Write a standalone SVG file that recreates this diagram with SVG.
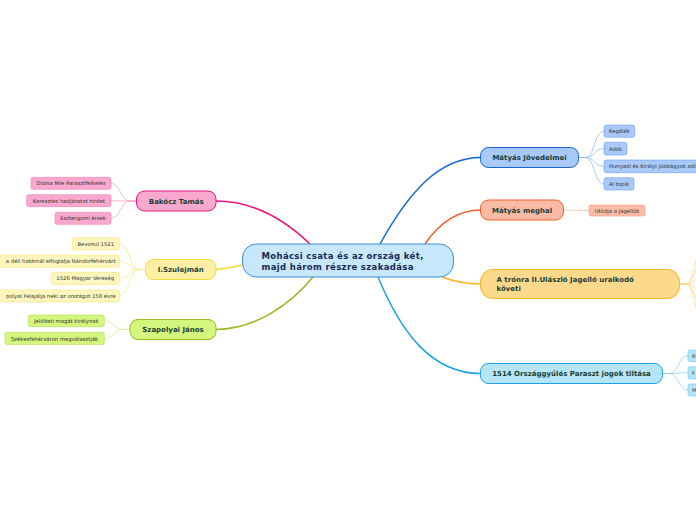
<svg xmlns="http://www.w3.org/2000/svg" width="696" height="520" viewBox="0 0 696 520">
<style>
text{font-family:"DejaVu Sans","Verdana",sans-serif}
.main{font-weight:bold;font-size:7px;fill:#1b3d35;text-anchor:middle}
.ctr{font-weight:bold;font-size:8.5px;fill:#1a2a55;letter-spacing:0.35px}
.sub{font-size:5.3px;fill:#333;text-anchor:middle}
.mc{fill:none;stroke-width:1.5}
.cc{fill:none;stroke-width:0.8}
</style>
<rect width="696" height="520" fill="#ffffff"/>
<g id="connectors">
  <path class="mc" stroke="#e8157a" d="M310,244 C285,220 255,201 216,201"/>
  <path class="mc" stroke="#f2dc3a" d="M243,265 C232,267 226,269 216,269.5"/>
  <path class="mc" stroke="#94ba1c" d="M313,277 C290,305 255,329 216,329.5"/>
  <path class="mc" stroke="#1565d4" d="M380,244 C410,190 440,157.5 481,157.5"/>
  <path class="mc" stroke="#f2602e" d="M425,244 C440,222 458,210 481,210"/>
  <path class="mc" stroke="#f8b425" d="M442,277 C455,282 465,284 481,284"/>
  <path class="mc" stroke="#1aa2e8" d="M378,277 C400,330 430,373.5 481,373.5"/>
  <g stroke="#f5a2c8" class="cc">
    <path d="M136.5,201 L130,201 C121,201 120,183.3 111,183.3"/>
    <path d="M136.5,201 L130,201 C121,201 120,200.7 111,200.7"/>
    <path d="M136.5,201 L130,201 C121,201 120,218.3 111,218.3"/>
  </g>
  <g stroke="#f7e88a" class="cc">
    <path d="M145.5,269.5 L139,269.5 C130,269.5 129,243.8 119.3,243.8"/>
    <path d="M145.5,269.5 L139,269.5 C130,269.5 129,261.2 119.3,261.2"/>
    <path d="M145.5,269.5 L139,269.5 C130,269.5 129,278.4 119.3,278.4"/>
    <path d="M145.5,269.5 L139,269.5 C130,269.5 129,296 119.3,296"/>
  </g>
  <g stroke="#cfe89a" class="cc">
    <path d="M130,329.5 L124,329.5 C114,329.5 114,320.8 104.3,320.8"/>
    <path d="M130,329.5 L124,329.5 C114,329.5 114,338.5 104.3,338.5"/>
  </g>
  <g stroke="#94bcf4" class="cc">
    <path d="M578.5,157.5 L585,157.5 C595,157.5 594,131.2 604,131.2"/>
    <path d="M578.5,157.5 L585,157.5 C595,157.5 594,148.6 604,148.6"/>
    <path d="M578.5,157.5 L585,157.5 C595,157.5 594,166.3 604,166.3"/>
    <path d="M578.5,157.5 L585,157.5 C595,157.5 594,183.8 604,183.8"/>
  </g>
  <g stroke="#f9b8a4" class="cc">
    <path d="M563.5,210 C575,210 580,210.5 589,210.5"/>
  </g>
  <g stroke="#fcd990" class="cc">
    <path d="M679.5,284 L686,284 C694,284 696,250 705,230"/>
    <path d="M679.5,284 L686,284 C694,284 696,262 705,255"/>
    <path d="M679.5,284 L686,284 C694,284 696,276 705,274"/>
    <path d="M679.5,284 L686,284 C694,284 696,292 705,294"/>
    <path d="M679.5,284 L686,284 C694,284 696,306 705,313"/>
    <path d="M679.5,284 L686,284 C694,284 696,318 705,338"/>
  </g>
  <g stroke="#94d4f4" class="cc">
    <path d="M662.5,373.5 L669,373.5 C679,373.5 678,355.8 688,355.8"/>
    <path d="M662.5,373.5 L669,373.5 C679,373.5 678,372.8 688,372.8"/>
    <path d="M662.5,373.5 L669,373.5 C679,373.5 678,390 688,390"/>
  </g>
</g>
<g id="central">
  <rect x="242.5" y="244" width="211" height="33" rx="14" fill="#c6e8fa" stroke="#3a8fd6" stroke-width="1"/>
  <text class="ctr" x="261.5" y="259">Mohácsi csata és az ország két,</text>
  <text class="ctr" x="261.5" y="270">majd három részre szakadása</text>
</g>
<g id="bakocz">
  <rect x="136.5" y="191" width="79.5" height="20" rx="8" fill="#f9a9cf" stroke="#e8157a"/>
  <text class="main" x="176.2" y="203.5">Bakócz Tamás</text>
</g>
<g id="bakocz-1"><rect x="31" y="177.3" width="80" height="12" rx="2" fill="#f9a9cf" stroke="#ee7fb4" stroke-width="0.6"/><text class="sub" x="71" y="185.2">Dózsa féle Parasztfelkelés</text></g>
<g id="bakocz-2"><rect x="26.7" y="194.7" width="84.3" height="12" rx="2" fill="#f9a9cf" stroke="#ee7fb4" stroke-width="0.6"/><text class="sub" x="68.8" y="202.6">Keresztes hadjáratot hirdet</text></g>
<g id="bakocz-3"><rect x="55" y="212.3" width="56" height="12" rx="2" fill="#f9a9cf" stroke="#ee7fb4" stroke-width="0.6"/><text class="sub" x="83" y="220.2">Esztergomi érsek</text></g>
<g id="szulejman">
  <rect x="145.5" y="259.5" width="70.5" height="20" rx="8" fill="#fdf0a4" stroke="#f2dc3a"/>
  <text class="main" x="180.7" y="272">I.Szulejmán</text>
</g>
<g id="szulejman-1"><rect x="72.3" y="237.7" width="47" height="12.3" rx="2" fill="#fef6bc" stroke="#f5e27c" stroke-width="0.6"/><text class="sub" x="95.8" y="245.8">Bevonul 1521</text></g>
<g id="szulejman-2"><rect x="-5" y="255" width="124.3" height="12.3" rx="2" fill="#fef6bc" stroke="#f5e27c" stroke-width="0.6"/><text class="sub" x="115.5" y="263.1" style="text-anchor:end">a déli határnál elfoglalja Nándorfehérvárt</text></g>
<g id="szulejman-3"><rect x="51" y="272.3" width="68.3" height="12.3" rx="2" fill="#fef6bc" stroke="#f5e27c" stroke-width="0.6"/><text class="sub" x="85.2" y="280.4">1526 Magyar Vereség</text></g>
<g id="szulejman-4"><rect x="-5" y="290" width="124.3" height="12" rx="2" fill="#fef6bc" stroke="#f5e27c" stroke-width="0.6"/><text class="sub" x="115.5" y="298" style="text-anchor:end">polyai Felajálja neki az országot 150 évre</text></g>
<g id="szapolyai">
  <rect x="130" y="319.5" width="86" height="20" rx="8" fill="#d4f57e" stroke="#94ba1c"/>
  <text class="main" x="173" y="332">Szapolyai János</text>
</g>
<g id="szapolyai-1"><rect x="28.3" y="315" width="76" height="11.7" rx="2" fill="#d4f57e" stroke="#b2da58" stroke-width="0.6"/><text class="sub" x="66.3" y="322.9">Jelölteti magát királynak</text></g>
<g id="szapolyai-2"><rect x="5" y="332.3" width="99.3" height="12.3" rx="2" fill="#d4f57e" stroke="#b2da58" stroke-width="0.6"/><text class="sub" x="54.6" y="340.5">Székesfehérváron megválasztják</text></g>
<g id="jovedelmei">
  <rect x="480.5" y="147.5" width="98" height="20" rx="8" fill="#a8c9fa" stroke="#1565d4"/>
  <text class="main" x="529.5" y="160">Mátyás Jövedelmei</text>
</g>
<g id="jovedelmei-1"><rect x="604" y="125" width="30.7" height="12.3" rx="2" fill="#a8c9fa" stroke="#6fa0ea" stroke-width="0.6"/><text class="sub" x="619.3" y="133.2">Regálék</text></g>
<g id="jovedelmei-2"><rect x="604" y="142.3" width="23" height="12.7" rx="2" fill="#a8c9fa" stroke="#6fa0ea" stroke-width="0.6"/><text class="sub" x="615.5" y="150.6">Adók</text></g>
<g id="jovedelmei-3"><rect x="604" y="160" width="100" height="12.7" rx="2" fill="#a8c9fa" stroke="#6fa0ea" stroke-width="0.6"/><text class="sub" x="609" y="168.3" style="text-anchor:start">Hunyadi és Királyi jobbágyok adója</text></g>
<g id="jovedelmei-4"><rect x="604" y="177.7" width="30" height="12.3" rx="2" fill="#a8c9fa" stroke="#6fa0ea" stroke-width="0.6"/><text class="sub" x="619" y="185.8">Al topik</text></g>
<g id="meghal">
  <rect x="480.5" y="200" width="83" height="20" rx="8" fill="#f9bba6" stroke="#f2602e"/>
  <text class="main" x="522" y="212.5">Mátyás meghal</text>
</g>
<g id="meghal-1"><rect x="589" y="205" width="56" height="11" rx="2" fill="#f9bba6" stroke="#f89f84" stroke-width="0.6"/><text class="sub" x="617" y="212.5">Utódja a Jagellók</text></g>
<g id="tronra">
  <rect x="480.5" y="269.5" width="199" height="29" rx="12" fill="#fdd98c" stroke="#f8b425"/>
  <text class="main" x="496.5" y="282" style="text-anchor:start">A trónra II.Ulászló Jagelló uralkodó</text>
  <text class="main" x="496.5" y="291" style="text-anchor:start">követi</text>
</g>
<g id="orszaggyules">
  <rect x="480.5" y="363.5" width="182" height="20" rx="8" fill="#b5e5f9" stroke="#1aa2e8"/>
  <text class="main" x="571.5" y="376">1514 Országgyűlés Paraszt jogok tiltása</text>
</g>
<g id="orszaggyules-1"><rect x="688" y="350" width="20" height="11.7" rx="2" fill="#b5e5f9" stroke="#6cc4f0" stroke-width="0.6"/><text class="sub" x="692" y="358" style="text-anchor:start">R</text></g>
<g id="orszaggyules-2"><rect x="688" y="366.7" width="20" height="12.3" rx="2" fill="#b5e5f9" stroke="#6cc4f0" stroke-width="0.6"/><text class="sub" x="692" y="375" style="text-anchor:start">F</text></g>
<g id="orszaggyules-3"><rect x="688" y="384" width="20" height="12" rx="2" fill="#b5e5f9" stroke="#6cc4f0" stroke-width="0.6"/><text class="sub" x="692" y="392.1" style="text-anchor:start">M</text></g>
</svg>
